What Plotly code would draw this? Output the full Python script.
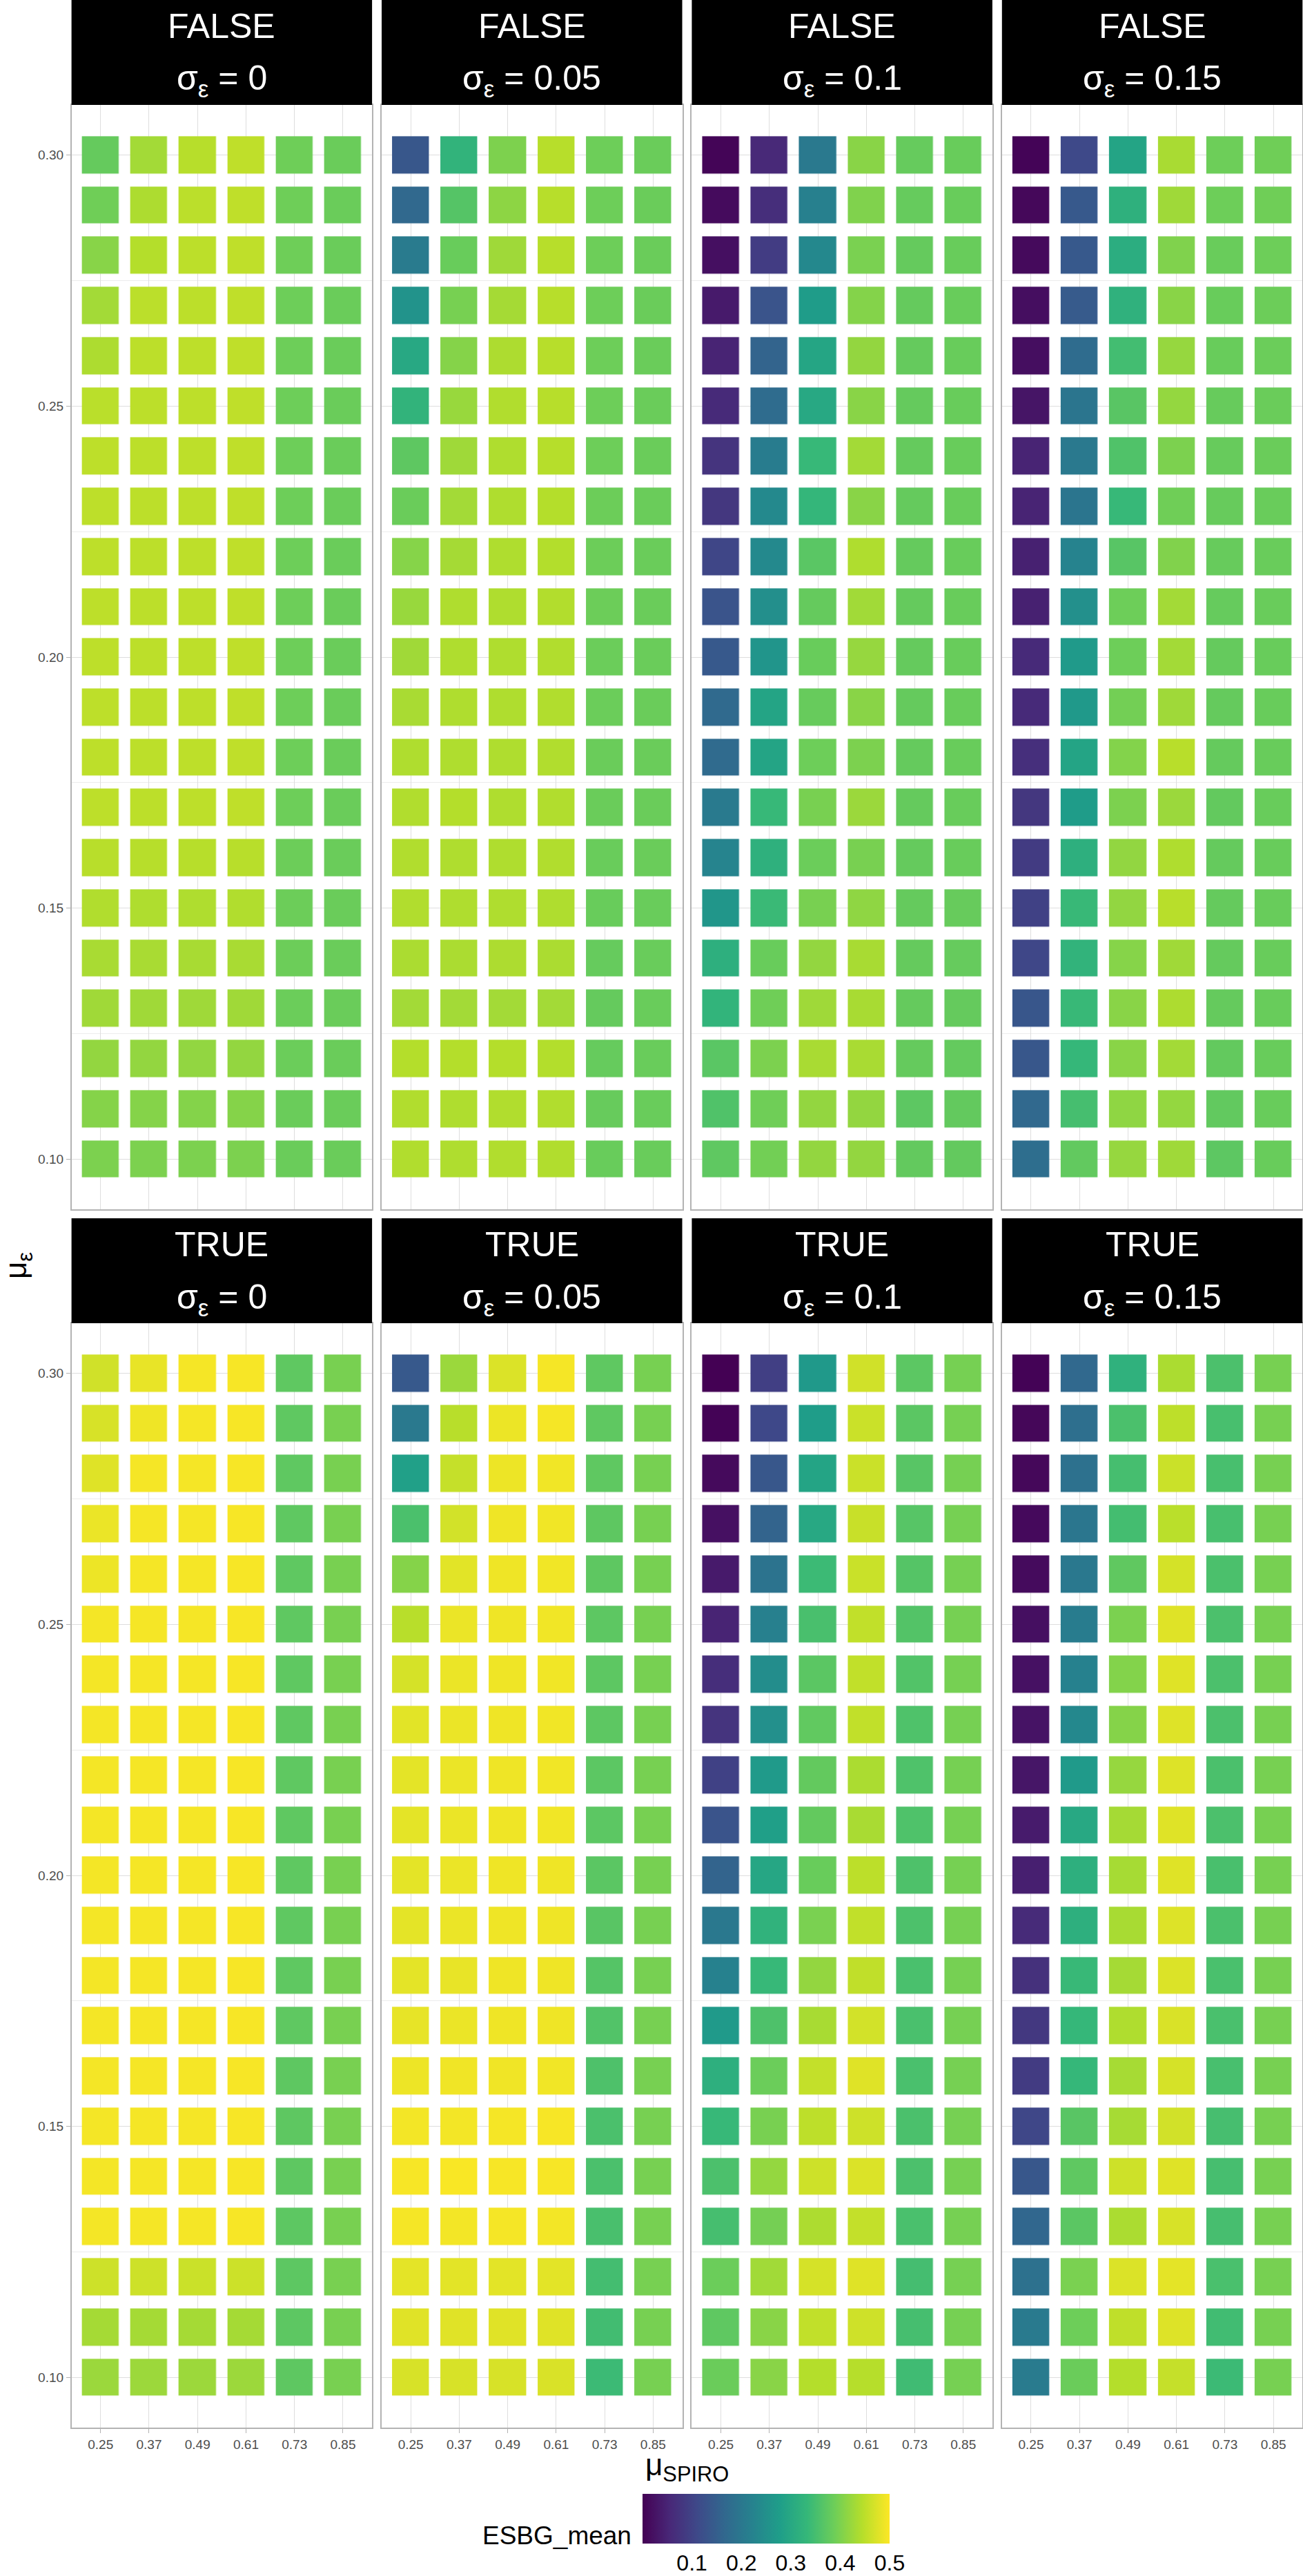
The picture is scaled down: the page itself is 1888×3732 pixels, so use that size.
import plotly.graph_objects as go

W, H = 1888, 3732

# ---------------- data ----------------
mu_spiro = [0.25, 0.37, 0.49, 0.61, 0.73, 0.85]
mu_spiro_labels = ["0.25", "0.37", "0.49", "0.61", "0.73", "0.85"]
# rows, top to bottom
mu_eps = [0.30, 0.29, 0.28, 0.27, 0.26, 0.25, 0.24, 0.23, 0.22, 0.21, 0.20,
          0.19, 0.18, 0.17, 0.16, 0.15, 0.14, 0.13, 0.12, 0.11, 0.10]
mu_eps_ticks = [0.10, 0.15, 0.20, 0.25, 0.30]
mu_eps_labels = ["0.10", "0.15", "0.20", "0.25", "0.30"]
sigma_eps = ["0", "0.05", "0.1", "0.15"]
flag_labels = ["FALSE", "TRUE"]
legend_ticks = [0.1, 0.2, 0.3, 0.4, 0.5]
legend_ticktext = ["0.1", "0.2", "0.3", "0.4", "0.5"]

# ESBG_mean, one list per mu_SPIRO column, values ordered as mu_eps (0.30 -> 0.10)
false_s000 = [
    [0.380, 0.390, 0.409, 0.430, 0.438, 0.448, 0.451, 0.451, 0.451, 0.451, 0.451, 0.451, 0.451, 0.451, 0.447, 0.441, 0.435, 0.428, 0.418, 0.407, 0.400],
    [0.430, 0.438, 0.444, 0.449, 0.450, 0.450, 0.450, 0.450, 0.450, 0.450, 0.450, 0.450, 0.450, 0.450, 0.446, 0.440, 0.435, 0.428, 0.418, 0.407, 0.400],
    [0.446, 0.449, 0.450, 0.450, 0.451, 0.451, 0.451, 0.451, 0.451, 0.451, 0.451, 0.451, 0.451, 0.451, 0.446, 0.440, 0.434, 0.427, 0.417, 0.406, 0.400],
    [0.452, 0.452, 0.452, 0.452, 0.452, 0.452, 0.452, 0.452, 0.452, 0.452, 0.452, 0.452, 0.452, 0.452, 0.447, 0.441, 0.435, 0.428, 0.418, 0.407, 0.400],
    [0.389, 0.389, 0.389, 0.388, 0.388, 0.388, 0.388, 0.388, 0.388, 0.388, 0.388, 0.388, 0.388, 0.388, 0.387, 0.387, 0.387, 0.386, 0.386, 0.385, 0.385],
    [0.385, 0.385, 0.385, 0.385, 0.385, 0.385, 0.385, 0.385, 0.385, 0.385, 0.385, 0.385, 0.385, 0.385, 0.385, 0.385, 0.385, 0.385, 0.385, 0.385, 0.385],
]
false_s005 = [
    [0.136, 0.168, 0.208, 0.256, 0.300, 0.325, 0.373, 0.385, 0.408, 0.422, 0.428, 0.435, 0.440, 0.441, 0.441, 0.441, 0.437, 0.430, 0.444, 0.441, 0.441],
    [0.325, 0.365, 0.383, 0.396, 0.407, 0.422, 0.427, 0.430, 0.432, 0.440, 0.440, 0.440, 0.440, 0.444, 0.440, 0.440, 0.437, 0.430, 0.444, 0.440, 0.440],
    [0.401, 0.413, 0.427, 0.432, 0.438, 0.441, 0.440, 0.440, 0.440, 0.440, 0.440, 0.440, 0.440, 0.440, 0.440, 0.440, 0.438, 0.430, 0.444, 0.441, 0.441],
    [0.446, 0.446, 0.446, 0.446, 0.446, 0.446, 0.445, 0.444, 0.443, 0.442, 0.441, 0.441, 0.441, 0.441, 0.441, 0.440, 0.437, 0.430, 0.443, 0.441, 0.441],
    [0.388, 0.388, 0.388, 0.388, 0.388, 0.388, 0.388, 0.387, 0.387, 0.387, 0.386, 0.386, 0.385, 0.385, 0.384, 0.383, 0.381, 0.380, 0.381, 0.382, 0.383],
    [0.385, 0.385, 0.385, 0.385, 0.385, 0.385, 0.385, 0.385, 0.385, 0.385, 0.385, 0.385, 0.385, 0.385, 0.385, 0.384, 0.384, 0.384, 0.384, 0.384, 0.384],
]
false_s010 = [
    [0.005, 0.014, 0.020, 0.036, 0.050, 0.059, 0.075, 0.080, 0.106, 0.130, 0.140, 0.170, 0.173, 0.205, 0.226, 0.262, 0.316, 0.327, 0.369, 0.360, 0.374],
    [0.057, 0.065, 0.090, 0.130, 0.160, 0.175, 0.210, 0.237, 0.237, 0.248, 0.260, 0.290, 0.290, 0.335, 0.318, 0.338, 0.383, 0.390, 0.400, 0.390, 0.392],
    [0.203, 0.217, 0.235, 0.274, 0.294, 0.300, 0.335, 0.330, 0.369, 0.380, 0.383, 0.382, 0.388, 0.397, 0.386, 0.397, 0.418, 0.427, 0.435, 0.418, 0.418],
    [0.410, 0.403, 0.398, 0.406, 0.418, 0.410, 0.430, 0.410, 0.440, 0.429, 0.420, 0.410, 0.400, 0.424, 0.397, 0.415, 0.434, 0.434, 0.435, 0.418, 0.418],
    [0.381, 0.381, 0.380, 0.380, 0.380, 0.380, 0.380, 0.380, 0.380, 0.380, 0.380, 0.380, 0.380, 0.380, 0.380, 0.380, 0.380, 0.380, 0.380, 0.372, 0.378],
    [0.383, 0.383, 0.383, 0.383, 0.383, 0.383, 0.383, 0.383, 0.383, 0.383, 0.383, 0.383, 0.383, 0.383, 0.383, 0.382, 0.381, 0.380, 0.379, 0.378, 0.378],
]
false_s015 = [
    [0.004, 0.010, 0.013, 0.018, 0.018, 0.028, 0.050, 0.050, 0.045, 0.045, 0.059, 0.059, 0.067, 0.080, 0.088, 0.098, 0.108, 0.135, 0.137, 0.168, 0.180],
    [0.112, 0.140, 0.140, 0.143, 0.175, 0.195, 0.203, 0.195, 0.225, 0.250, 0.270, 0.268, 0.290, 0.274, 0.315, 0.336, 0.325, 0.336, 0.333, 0.350, 0.377],
    [0.290, 0.318, 0.310, 0.320, 0.347, 0.368, 0.360, 0.335, 0.367, 0.388, 0.388, 0.393, 0.405, 0.400, 0.417, 0.417, 0.408, 0.410, 0.410, 0.415, 0.420],
    [0.435, 0.427, 0.403, 0.410, 0.420, 0.419, 0.400, 0.390, 0.404, 0.430, 0.430, 0.427, 0.447, 0.424, 0.440, 0.447, 0.428, 0.438, 0.430, 0.419, 0.427],
    [0.388, 0.388, 0.384, 0.383, 0.383, 0.382, 0.382, 0.382, 0.382, 0.381, 0.380, 0.380, 0.380, 0.378, 0.380, 0.380, 0.380, 0.380, 0.378, 0.377, 0.372],
    [0.390, 0.390, 0.388, 0.387, 0.386, 0.385, 0.385, 0.384, 0.384, 0.384, 0.383, 0.383, 0.383, 0.383, 0.383, 0.383, 0.383, 0.383, 0.383, 0.383, 0.383],
]
true_s000 = [
    [0.465, 0.471, 0.477, 0.486, 0.488, 0.493, 0.493, 0.493, 0.493, 0.493, 0.493, 0.493, 0.493, 0.493, 0.493, 0.493, 0.493, 0.493, 0.463, 0.432, 0.424],
    [0.484, 0.489, 0.494, 0.494, 0.494, 0.494, 0.494, 0.494, 0.494, 0.494, 0.494, 0.494, 0.494, 0.494, 0.494, 0.494, 0.494, 0.494, 0.463, 0.432, 0.425],
    [0.494, 0.494, 0.494, 0.494, 0.494, 0.494, 0.494, 0.494, 0.494, 0.494, 0.494, 0.494, 0.494, 0.494, 0.494, 0.494, 0.494, 0.494, 0.461, 0.432, 0.425],
    [0.495, 0.495, 0.495, 0.495, 0.495, 0.495, 0.495, 0.495, 0.495, 0.495, 0.495, 0.495, 0.495, 0.495, 0.495, 0.495, 0.495, 0.495, 0.462, 0.432, 0.425],
    [0.374, 0.374, 0.374, 0.374, 0.374, 0.374, 0.374, 0.374, 0.374, 0.374, 0.374, 0.374, 0.374, 0.374, 0.373, 0.373, 0.373, 0.372, 0.372, 0.372, 0.373],
    [0.397, 0.397, 0.397, 0.397, 0.397, 0.397, 0.397, 0.397, 0.397, 0.397, 0.397, 0.397, 0.397, 0.397, 0.397, 0.397, 0.397, 0.397, 0.397, 0.397, 0.397],
]
true_s005 = [
    [0.140, 0.203, 0.282, 0.355, 0.407, 0.447, 0.469, 0.479, 0.481, 0.481, 0.481, 0.481, 0.481, 0.483, 0.488, 0.492, 0.495, 0.494, 0.481, 0.478, 0.471],
    [0.424, 0.447, 0.457, 0.467, 0.479, 0.486, 0.486, 0.486, 0.486, 0.486, 0.486, 0.486, 0.484, 0.486, 0.490, 0.492, 0.497, 0.492, 0.480, 0.478, 0.471],
    [0.474, 0.487, 0.488, 0.489, 0.489, 0.489, 0.489, 0.489, 0.489, 0.489, 0.489, 0.489, 0.489, 0.489, 0.490, 0.494, 0.495, 0.494, 0.480, 0.478, 0.471],
    [0.494, 0.494, 0.491, 0.491, 0.491, 0.491, 0.491, 0.491, 0.491, 0.491, 0.489, 0.489, 0.489, 0.489, 0.491, 0.495, 0.495, 0.492, 0.480, 0.477, 0.472],
    [0.374, 0.374, 0.374, 0.373, 0.373, 0.372, 0.372, 0.372, 0.371, 0.371, 0.370, 0.368, 0.365, 0.362, 0.358, 0.355, 0.355, 0.353, 0.348, 0.346, 0.340],
    [0.396, 0.396, 0.396, 0.396, 0.396, 0.396, 0.396, 0.396, 0.396, 0.396, 0.396, 0.396, 0.396, 0.396, 0.396, 0.396, 0.396, 0.396, 0.396, 0.396, 0.396],
]
true_s010 = [
    [0.000, 0.003, 0.013, 0.022, 0.036, 0.050, 0.065, 0.075, 0.098, 0.130, 0.160, 0.200, 0.220, 0.270, 0.315, 0.335, 0.356, 0.350, 0.386, 0.374, 0.385],
    [0.095, 0.110, 0.136, 0.160, 0.190, 0.218, 0.245, 0.250, 0.270, 0.280, 0.296, 0.322, 0.335, 0.358, 0.386, 0.397, 0.419, 0.394, 0.429, 0.410, 0.410],
    [0.268, 0.275, 0.290, 0.300, 0.340, 0.353, 0.370, 0.376, 0.378, 0.378, 0.383, 0.398, 0.418, 0.434, 0.455, 0.451, 0.463, 0.438, 0.469, 0.454, 0.444],
    [0.465, 0.461, 0.461, 0.459, 0.460, 0.454, 0.454, 0.454, 0.437, 0.435, 0.450, 0.454, 0.453, 0.467, 0.477, 0.463, 0.474, 0.455, 0.477, 0.464, 0.445],
    [0.371, 0.370, 0.367, 0.366, 0.365, 0.363, 0.362, 0.359, 0.359, 0.359, 0.358, 0.357, 0.354, 0.354, 0.354, 0.355, 0.356, 0.354, 0.349, 0.350, 0.344],
    [0.395, 0.395, 0.395, 0.395, 0.395, 0.395, 0.395, 0.395, 0.395, 0.395, 0.395, 0.395, 0.395, 0.395, 0.395, 0.395, 0.395, 0.395, 0.395, 0.395, 0.395],
]
true_s015 = [
    [0.003, 0.008, 0.010, 0.012, 0.014, 0.020, 0.023, 0.026, 0.030, 0.037, 0.043, 0.060, 0.070, 0.082, 0.088, 0.108, 0.136, 0.165, 0.185, 0.205, 0.207],
    [0.168, 0.182, 0.186, 0.197, 0.200, 0.210, 0.220, 0.235, 0.270, 0.300, 0.315, 0.315, 0.336, 0.333, 0.333, 0.368, 0.374, 0.370, 0.398, 0.388, 0.385],
    [0.320, 0.355, 0.350, 0.348, 0.375, 0.399, 0.405, 0.407, 0.420, 0.432, 0.433, 0.434, 0.432, 0.440, 0.433, 0.433, 0.463, 0.437, 0.474, 0.452, 0.444],
    [0.437, 0.451, 0.461, 0.448, 0.468, 0.477, 0.477, 0.476, 0.475, 0.477, 0.477, 0.475, 0.474, 0.472, 0.469, 0.466, 0.477, 0.471, 0.481, 0.475, 0.457],
    [0.356, 0.352, 0.352, 0.352, 0.355, 0.356, 0.356, 0.356, 0.355, 0.356, 0.353, 0.355, 0.354, 0.354, 0.352, 0.351, 0.351, 0.351, 0.354, 0.345, 0.340],
    [0.396, 0.396, 0.396, 0.396, 0.396, 0.396, 0.396, 0.396, 0.396, 0.396, 0.396, 0.396, 0.396, 0.396, 0.396, 0.396, 0.396, 0.396, 0.396, 0.396, 0.396],
]

panels = [
    [false_s000, false_s005, false_s010, false_s015],
    [true_s000, true_s005, true_s010, true_s015],
]

# ---------------- layout geometry (pixels) ----------------
FONT = "Liberation Sans, Arial, Helvetica, sans-serif"
MB = 60                      # bottom margin reserved for colour-bar labels
HP = H - MB                  # plotting-area height
panel_left = [103.6, 553.0, 1002.4, 1451.8]
panel_w = 435.5
strip_top = [0, 1765]
strip_h = 152
plot_top = [152, 1917]
plot_h = 1600
CMIN, CMAX = 0.0, 0.5
cb_left, cb_len, cb_top, cb_thick = 931, 358, 3613, 72

def px(x):
    return x / W

def py(y):
    return 1 - y / HP

fig = go.Figure()
layout = {}
annotations = []
shapes = []

k = 0
for r in range(2):
    for c in range(4):
        k += 1
        cols = panels[r][c]
        z = [[cols[j][i] for j in range(len(mu_spiro))] for i in range(len(mu_eps))]
        xa = "x" if k == 1 else f"x{k}"
        ya = "y" if k == 1 else f"y{k}"
        fig.add_trace(go.Heatmap(
            x=mu_spiro, y=mu_eps, z=z,
            xaxis=xa, yaxis=ya,
            coloraxis="coloraxis",
            xgap=16.6, ygap=18.8,
            hovertemplate="μSPIRO=%{x}<br>με=%{y}<br>ESBG_mean=%{z}<extra></extra>",
        ))
        l = panel_left[c]
        rgt = l + panel_w
        t = plot_top[r]
        b = t + plot_h
        bottom_row = (r == 1)
        left_col = (c == 0)
        layout["xaxis" if k == 1 else f"xaxis{k}"] = dict(
            domain=[px(l), px(rgt)], anchor=ya,
            range=[0.178, 0.922], tickmode="array",
            tickvals=mu_spiro, ticktext=mu_spiro_labels,
            showticklabels=bottom_row,
            ticks="outside" if bottom_row else "", ticklen=6, tickwidth=1.3, tickcolor="#b3b3b3",
            tickfont=dict(family=FONT, size=19, color="#4d4d4d"),
            showgrid=True, gridcolor="#dedede", gridwidth=1.3,
            zeroline=False, showline=True, mirror=True,
            linecolor="#b3b3b3", linewidth=1.5, fixedrange=True,
        )
        layout["yaxis" if k == 1 else f"yaxis{k}"] = dict(
            domain=[py(b), py(t)], anchor=xa,
            range=[0.09, 0.31], tickmode="array",
            tickvals=mu_eps_ticks, ticktext=mu_eps_labels,
            showticklabels=left_col,
            ticks="outside" if left_col else "", ticklen=6, tickwidth=1.3, tickcolor="#b3b3b3",
            tickfont=dict(family=FONT, size=19, color="#4d4d4d"),
            showgrid=True, gridcolor="#dedede", gridwidth=1.3,
            minor=dict(tickmode="array", tickvals=[0.125, 0.175, 0.225, 0.275],
                       showgrid=True, gridcolor="#ececec", gridwidth=0.8),
            zeroline=False, showline=True, mirror=True,
            linecolor="#b3b3b3", linewidth=1.5, fixedrange=True,
        )
        # strip
        st = strip_top[r]
        shapes.append(dict(type="rect", xref="paper", yref="paper",
                           x0=px(l), x1=px(rgt), y0=py(st + strip_h), y1=py(st),
                           fillcolor="black", line=dict(width=0), layer="above"))
        cx = px(l + panel_w / 2)
        annotations.append(dict(text=flag_labels[r], xref="paper", yref="paper",
                                x=cx, y=py(st + 38), xanchor="center", yanchor="middle",
                                showarrow=False, font=dict(family=FONT, size=50, color="white")))
        annotations.append(dict(text=f"σ<sub>ε</sub> = {sigma_eps[c]}", xref="paper", yref="paper",
                                x=cx, y=py(st + 117), xanchor="center", yanchor="middle",
                                showarrow=False, font=dict(family=FONT, size=50, color="white")))

# white tick marks across the colour bar, placed from the legend tick values
for v in legend_ticks:
    xv = cb_left + (v - CMIN) / (CMAX - CMIN) * cb_len
    shapes.append(dict(type="line", xref="paper", yref="paper",
                       x0=px(xv), x1=px(xv), y0=py(cb_top + cb_thick), y1=py(cb_top),
                       line=dict(color="white", width=1.5), layer="above"))

# axis titles
annotations.append(dict(text="μ<sub>SPIRO</sub>", xref="paper", yref="paper",
                        x=px(995.6), y=py(3574), xanchor="center", yanchor="middle",
                        showarrow=False, font=dict(family=FONT, size=44, color="black")))
annotations.append(dict(text="μ<sub>ε</sub>", xref="paper", yref="paper",
                        x=px(26), y=py(1834), xanchor="center", yanchor="middle",
                        textangle=-90, showarrow=False,
                        font=dict(family=FONT, size=44, color="black")))
# legend title
annotations.append(dict(text="ESBG_mean", xref="paper", yref="paper",
                        x=px(917), y=py(3674), xanchor="right", yanchor="middle",
                        showarrow=False, font=dict(family=FONT, size=37, color="black")))

layout.update(dict(
    width=W, height=H,
    margin=dict(l=0, r=0, t=0, b=MB),
    paper_bgcolor="white", plot_bgcolor="white",
    showlegend=False,
    font=dict(family=FONT),
    annotations=annotations, shapes=shapes,
    coloraxis=dict(
        colorscale="Viridis", cmin=CMIN, cmax=CMAX,
        colorbar=dict(
            orientation="h",
            x=px(cb_left + cb_len / 2), xanchor="center",
            y=py(cb_top), yanchor="top",
            len=cb_len, lenmode="pixels",
            thickness=cb_thick, thicknessmode="pixels",
            outlinewidth=0, xpad=0, ypad=0,
            tickmode="array", tickvals=legend_ticks, ticktext=legend_ticktext,
            ticks="",
            tickfont=dict(family=FONT, size=32, color="black"),
        ),
    ),
))
fig.update_layout(layout)
fig.write_html("out.html")
